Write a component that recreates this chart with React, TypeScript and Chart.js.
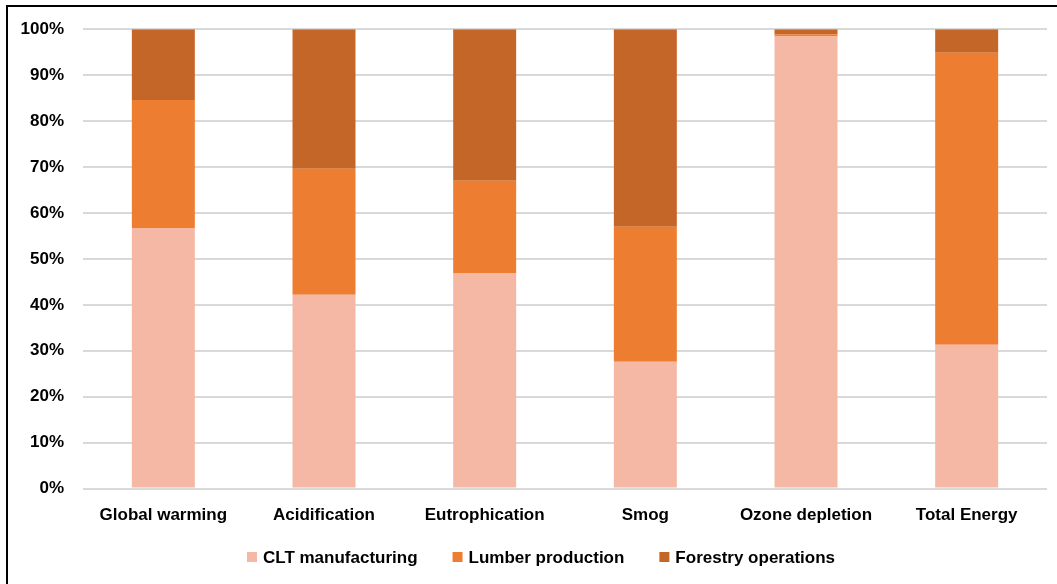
import React, { useEffect, useRef } from "react";
import { Chart, registerables } from "chart.js";

Chart.register(...registerables);

// Impact categories along the x axis
const categories = [
  "Global warming",
  "Acidification",
  "Eutrophication",
  "Smog",
  "Ozone depletion",
  "Total Energy",
];

// Share of each life-cycle stage per category (%)
const cltManufacturing = [56.7, 42.2, 46.8, 27.6, 98.4, 31.3];
const lumberProduction = [27.9, 27.4, 20.2, 29.4, 0.5, 63.6];
const forestryOperations = [15.4, 30.4, 33.0, 43.0, 1.1, 5.1];

const seriesNames = ["CLT manufacturing", "Lumber production", "Forestry operations"];
const seriesColors = ["#F4B8A5", "#ED7D31", "#C46628"];

const yTicks = [0, 10, 20, 30, 40, 50, 60, 70, 80, 90, 100];

const FONT_FAMILY = '"Liberation Sans", Arial, sans-serif';
const FONT_SIZE = 17;

// Single-row legend drawn under the x axis labels
const bottomLegend = {
  id: "bottomLegend",
  afterDraw(chart: any) {
    const ctx = chart.ctx as CanvasRenderingContext2D;
    ctx.save();
    ctx.font = `bold ${FONT_SIZE}px ${FONT_FAMILY}`;
    ctx.textBaseline = "alphabetic";
    ctx.textAlign = "left";
    const box = 10;
    const textGap = 6;
    const itemGap = 35;
    const items = chart.data.datasets.map((ds: any) => ({
      text: ds.label as string,
      color: ds.backgroundColor as string,
      width: ctx.measureText(ds.label).width,
    }));
    const total =
      items.reduce((s: number, it: any) => s + box + textGap + it.width, 0) +
      itemGap * (items.length - 1);
    const centerX = 541;
    const baseline = 563;
    let x = centerX - total / 2;
    for (const it of items) {
      ctx.fillStyle = it.color;
      ctx.fillRect(x, baseline - 11, box, box);
      ctx.fillStyle = "#000";
      ctx.fillText(it.text, x + box + textGap, baseline);
      x += box + textGap + it.width + itemGap;
    }
    ctx.restore();
  },
};

export default function App() {
  const canvasRef = useRef<HTMLCanvasElement | null>(null);

  useEffect(() => {
    document.body.style.margin = "0";
    document.body.style.overflow = "hidden";
    const canvas = canvasRef.current;
    if (!canvas) return;

    const values = [cltManufacturing, lumberProduction, forestryOperations];

    const chart = new Chart(canvas, {
      type: "bar",
      data: {
        labels: categories,
        datasets: seriesNames.map((name, i) => ({
          label: name,
          data: values[i],
          backgroundColor: seriesColors[i],
          borderWidth: 0,
          categoryPercentage: 1,
          barPercentage: 0.392,
        })),
      },
      options: {
        responsive: false,
        animation: false,
        layout: {
          padding: { top: 29, right: 10, bottom: 41, left: 0 },
        },
        plugins: {
          legend: { display: false },
          tooltip: { enabled: false },
        },
        scales: {
          x: {
            stacked: true,
            grid: { display: false, drawTicks: false },
            border: { display: false },
            ticks: {
              color: "#000",
              padding: 17,
              maxRotation: 0,
              autoSkip: false,
              font: { family: FONT_FAMILY, size: FONT_SIZE, weight: "bold" },
            },
          },
          y: {
            stacked: true,
            min: 0,
            max: 100,
            afterFit(scale: any) {
              scale.width = 83;
            },
            afterBuildTicks(scale: any) {
              scale.ticks = yTicks.map((v) => ({ value: v }));
            },
            grid: {
              color: "#d9d9d9",
              lineWidth: 2,
              drawTicks: false,
            },
            border: { display: false },
            ticks: {
              color: "#000",
              padding: 19,
              callback: (v: any) => `${v}%`,
              font: { family: FONT_FAMILY, size: FONT_SIZE, weight: "bold" },
            },
          },
        },
      },
      plugins: [bottomLegend],
    });

    return () => chart.destroy();
  }, []);

  return (
    <div
      style={{
        position: "relative",
        width: 1057,
        height: 584,
        overflow: "hidden",
        background: "#fff",
      }}
    >
      <div
        style={{
          position: "absolute",
          left: 6,
          top: 5,
          width: 1200,
          height: 700,
          borderTop: "2px solid #000",
          borderLeft: "2px solid #000",
        }}
      />
      <canvas
        ref={canvasRef}
        width={1057}
        height={584}
        style={{ position: "absolute", left: 0, top: 0, width: 1057, height: 584 }}
      />
    </div>
  );
}
